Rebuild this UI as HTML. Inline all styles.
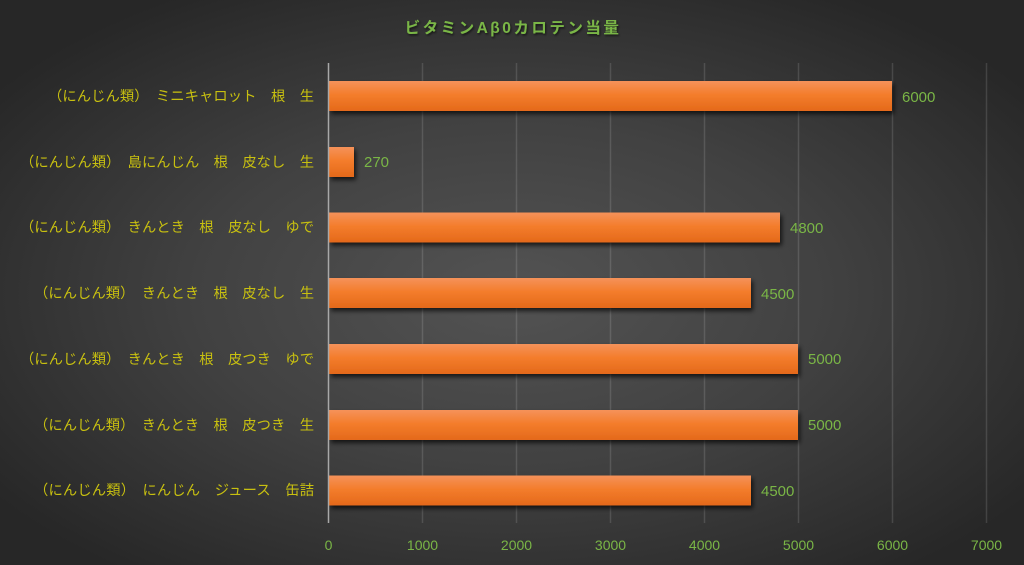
<!DOCTYPE html>
<html><head><meta charset="utf-8">
<style>
html,body{margin:0;padding:0;}
body{width:1024px;height:565px;overflow:hidden;background:#2a2a2a;}
svg{display:block;}
</style></head>
<body>
<svg width="1024" height="565" viewBox="0 0 1024 565" xmlns="http://www.w3.org/2000/svg">
<defs>
<radialGradient id="bg" cx="50%" cy="52%" r="62%" fx="50%" fy="52%">
<stop offset="0" stop-color="#535353"/>
<stop offset="0.5" stop-color="#414141"/>
<stop offset="1" stop-color="#272727"/>
</radialGradient>
<linearGradient id="bar" x1="0" y1="0" x2="0" y2="1">
<stop offset="0" stop-color="#f5925a"/>
<stop offset="0.45" stop-color="#f47d2c"/>
<stop offset="1" stop-color="#e4691a"/>
</linearGradient>
<filter id="sh" x="-5%" y="-30%" width="115%" height="180%">
<feGaussianBlur in="SourceAlpha" stdDeviation="2.5"/>
<feOffset dx="2" dy="3" result="b"/>
<feComponentTransfer><feFuncA type="linear" slope="0.7"/></feComponentTransfer>
<feMerge><feMergeNode/><feMergeNode in="SourceGraphic"/></feMerge>
</filter>
<filter id="ts" x="-10%" y="-30%" width="120%" height="160%">
<feGaussianBlur in="SourceAlpha" stdDeviation="1"/>
<feOffset dx="1" dy="1.5"/>
<feComponentTransfer><feFuncA type="linear" slope="0.6"/></feComponentTransfer>
<feMerge><feMergeNode/><feMergeNode in="SourceGraphic"/></feMerge>
</filter>
</defs>
<rect x="0" y="0" width="1024" height="565" fill="url(#bg)"/>

<text x="513" y="33" text-anchor="middle" font-family="'Liberation Sans','Noto Sans CJK JP',sans-serif" font-weight="bold" font-size="15.5" letter-spacing="2.5" fill="#7ab646" filter="url(#ts)">ビタミンAβ0カロテン当量</text>

<g stroke="#ffffff" stroke-opacity="0.13" stroke-width="1.5">
<line x1="422.5" y1="63" x2="422.5" y2="523"/>
<line x1="516.5" y1="63" x2="516.5" y2="523"/>
<line x1="610.5" y1="63" x2="610.5" y2="523"/>
<line x1="704.5" y1="63" x2="704.5" y2="523"/>
<line x1="798.5" y1="63" x2="798.5" y2="523"/>
<line x1="892.5" y1="63" x2="892.5" y2="523"/>
<line x1="986.5" y1="63" x2="986.5" y2="523"/>
</g>

<g filter="url(#sh)" fill="url(#bar)">
<rect x="329" y="81" width="563" height="30"/>
<rect x="329" y="147" width="25" height="30"/>
<rect x="329" y="212.5" width="451" height="30"/>
<rect x="329" y="278" width="422" height="30"/>
<rect x="329" y="344" width="469" height="30"/>
<rect x="329" y="410" width="469" height="30"/>
<rect x="329" y="475.5" width="422" height="30"/>
</g>

<line x1="328.5" y1="63" x2="328.5" y2="523" stroke="#a8a8a8" stroke-width="1.5"/>

<g font-family="'Liberation Sans','Noto Sans CJK JP',sans-serif" font-size="15" fill="#7ab646">
<text x="902" y="102">6000</text>
<text x="364" y="167">270</text>
<text x="790" y="233">4800</text>
<text x="761" y="299">4500</text>
<text x="808" y="364">5000</text>
<text x="808" y="430">5000</text>
<text x="761" y="496">4500</text>
</g>

<g font-family="'Liberation Sans','Noto Sans CJK JP',sans-serif" font-size="14" fill="#7ab646" text-anchor="middle">
<text x="328.5" y="550">0</text>
<text x="422.5" y="550">1000</text>
<text x="516.5" y="550">2000</text>
<text x="610.5" y="550">3000</text>
<text x="704.5" y="550">4000</text>
<text x="798.5" y="550">5000</text>
<text x="892.5" y="550">6000</text>
<text x="986.5" y="550">7000</text>
</g>

<g font-family="'Noto Sans CJK JP','WenQuanYi Zen Hei',sans-serif" font-size="14.3" fill="#c8c010" lengthAdjust="spacing">
<text x="48" y="101" textLength="266" lengthAdjust="spacing">（にんじん類）　ミニキャロット　根　生</text>
<text x="20" y="167" textLength="294" lengthAdjust="spacing">（にんじん類）　島にんじん　根　皮なし　生</text>
<text x="20" y="232" textLength="294" lengthAdjust="spacing">（にんじん類）　きんとき　根　皮なし　ゆで</text>
<text x="34" y="298" textLength="280" lengthAdjust="spacing">（にんじん類）　きんとき　根　皮なし　生</text>
<text x="20" y="364" textLength="294" lengthAdjust="spacing">（にんじん類）　きんとき　根　皮つき　ゆで</text>
<text x="34" y="430" textLength="280" lengthAdjust="spacing">（にんじん類）　きんとき　根　皮つき　生</text>
<text x="34" y="495" textLength="280" lengthAdjust="spacing">（にんじん類）　にんじん　ジュース　缶詰</text>
</g>
</svg>
</body></html>
